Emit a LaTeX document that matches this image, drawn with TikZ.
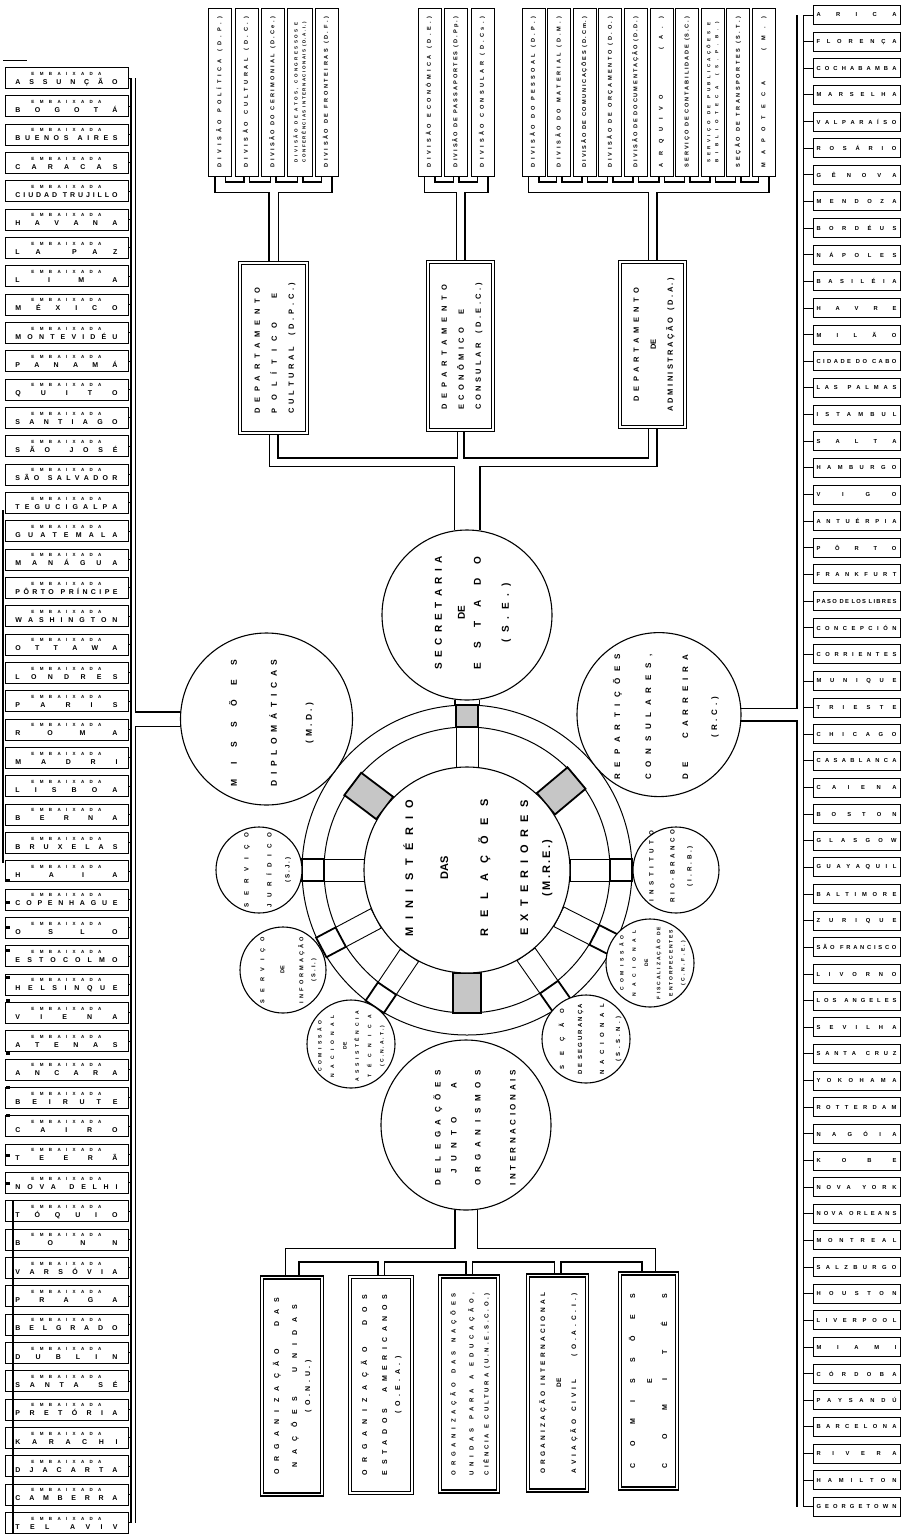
\documentclass[tikz,border=0pt]{standalone}
\usepackage{fontspec}
\setmainfont{Liberation Sans}
\usepackage{graphicx}
\usetikzlibrary{calc}
\pgfdeclarelayer{back}
\pgfdeclarelayer{pipes}
\pgfsetlayers{back,pipes,main}
\makeatletter
\def\spr@loop#1{\ifx#1\relax\else\ifx#1|\hfill\else#1\fi\expandafter\spr@more\fi}
\def\spr@more#1{\ifx#1\relax\else\hfill\ifx#1|\else#1\fi\expandafter\spr@more\fi}
\newcommand\spr[2]{\makebox[#1]{\spr@loop#2\relax}}
\newcommand\sprm[2]{\makebox[#1]{\expandafter\spr@loop#2\relax}}
\makeatother
\newcommand\vt[2][c]{\rotatebox{90}{\begin{tabular}{@{}#1@{}}#2\end{tabular}}}
\newcommand\pipeK[2]{\pgfmathsetmacro\pw{#1+3}\draw[line width=\pw pt] #2;}
\newcommand\pipeW[2]{\draw[white,line width=#1pt] #2;}
\newcommand\allpipes[1]{%
 #1{9}{(p1.south) -- (p1.south |- gb) -- (p5.south |- gb) -- (p5.south)}
 #1{4}{(p2.south) -- (p2.south |- gb)}
 #1{4}{(p3.south) -- (p3.south |- gb)}
 #1{4}{(p4.south) -- (p4.south |- gb)}
 #1{8}{(d1.north |- gb) -- (d1.north)}
 #1{9}{(e1.south) -- (e1.south |- gb) -- (e3.south |- gb) -- (e3.south)}
 #1{4}{(e2.south) -- (e2.south |- gb)}
 #1{7}{(d2.north |- gb) -- (d2.north)}
 #1{9}{(a1.south) -- (a1.south |- gb) -- (a10.south |- gb) -- (a10.south)}
 #1{4}{(a2.south) -- (a2.south |- gb)}
 #1{4}{(a3.south) -- (a3.south |- gb)}
 #1{4}{(a4.south) -- (a4.south |- gb)}
 #1{4}{(a5.south) -- (a5.south |- gb)}
 #1{4}{(a6.south) -- (a6.south |- gb)}
 #1{4}{(a7.south) -- (a7.south |- gb)}
 #1{4}{(a8.south) -- (a8.south |- gb)}
 #1{4}{(a9.south) -- (a9.south |- gb)}
 #1{7}{(d3.north |- gb) -- (d3.north)}
 #1{7}{(d1.south) -- (d1.south |- lb) -- (d3.south |- lb) -- (d3.south)}
 #1{5}{(d2.south) -- (d2.south |- lb)}
 #1{24}{(se.north |- lb) -- (se.north)}
 #1{23}{(se.south) -- (ringO.north)}
 #1{13}{(mi.west) -- (mi.west -| lbr)}
 #1{3}{(L1.east -| lbr) -- (L52.east -| lbr)}
 #1{11}{(re.east) -- (re.east -| rbr)}
 #1{5}{(R1.west -| rbr) -- (R57.west -| rbr)}
 #1{21}{(de.south) -- (de.south |- bb)}
 #1{12}{(b1.north) -- (b1.north |- bb) -- (b5.north |- bb) -- (b5.north)}
 #1{5}{(b2.north) -- (b2.north |- bb)}
 #1{5}{(b3.north) -- (b3.north |- bb)}
 #1{5}{(b4.north) -- (b4.north |- bb)}
}
\newcommand\spokethin[2]{\begin{scope}[shift={(ringO.center)},rotate=#1]
 \draw[line width=0.9pt,fill=white] (103,-11) rectangle (143,11);
 \draw[line width=1.8pt,fill=#2] (143,-11) rectangle (165,11);
 \end{scope}}
\newcommand\spokehatch[1]{\begin{scope}[shift={(ringO.center)},rotate=#1]
 \draw[line width=1.8pt,fill=gray!45] (103,-14) rectangle (143,14);
 \end{scope}}
\begin{document}
\begin{tikzpicture}[x=1pt,y=-1pt,
  every node/.style={inner sep=0pt,outer sep=0pt},
  tbox/.style={draw,line width=1pt,fill=white,minimum width=23pt,minimum height=168pt,font=\fontsize{5.6}{7}\selectfont\bfseries},
  dbox/.style={draw,line width=1.5pt,double=white,double distance=1.5pt,fill=white},
  deptf/.style={font=\fontsize{7.5}{17}\selectfont\bfseries},
  botf/.style={font=\fontsize{7}{13}\selectfont\bfseries},
  circ/.style={circle,draw,line width=1.1pt,fill=white},
  ringc/.style={circle,draw,line width=1pt,fill=white},
  ctext/.style={rotate=90,align=center},
  lbox/.style={draw,line width=1pt,fill=white,minimum width=123pt,minimum height=21pt,font=\fontsize{7}{9}\selectfont\bfseries},
  rbox/.style={draw,line width=1pt,fill=white,minimum width=87pt,minimum height=19pt,font=\fontsize{5.8}{6}\selectfont\bfseries}]
\begin{pgfonlayer}{back}
\fill[white] (0,0) rectangle (911,1534);
\end{pgfonlayer}
\useasboundingbox (0,0) rectangle (911,1534);
\coordinate (gb) at (0,187);
\coordinate (lb) at (0,462);
\coordinate (bb) at (0,1255);
\coordinate (lbr) at (133,0);
\coordinate (rbr) at (800,0);
\coordinate (lstub) at (131.5,0);
\coordinate (rstub) at (803,0);
% top divisions
\node[tbox] (p1) at (220,92) {\vt{\spr{150pt}{DIVISÃO|POLÍTICA|(D.P.)}}};
\node[tbox] (p2) at (246.5,92) {\vt{\spr{150pt}{DIVISÃO|CULTURAL|(D.C.)}}};
\node[tbox] (p3) at (273,92) {\vt{\spr{150pt}{DIVISÃO|DO|CERIMONIAL|(D.Ce.)}}};
\node[tbox,minimum width=25pt,font=\fontsize{4.5}{8}\selectfont\bfseries] (p4) at (300,92) {\vt{\spr{140pt}{DIVISÃO|DE|ATOS,|CONGRESSOS|E}\\ \spr{140pt}{CONFERÊNCIAS|INTERNACIONAIS|(D.A.I.)}}};
\node[tbox] (p5) at (326.5,92) {\vt{\spr{150pt}{DIVISÃO|DE|FRONTEIRAS|(D.F.)}}};
\node[tbox] (e1) at (429.5,92) {\vt{\spr{150pt}{DIVISÃO|ECONÔMICA|(D.E.)}}};
\node[tbox] (e2) at (456,92) {\vt{\spr{150pt}{DIVISÃO|DE|PASSAPORTES|(D.Pp.)}}};
\node[tbox] (e3) at (482.5,92) {\vt{\spr{150pt}{DIVISÃO|CONSULAR|(D.Cs.)}}};
\node[tbox] (a1) at (533.5,92) {\vt{\spr{150pt}{DIVISÃO|DO|PESSOAL|(D.P.)}}};
\node[tbox] (a2) at (559.1,92) {\vt{\spr{150pt}{DIVISÃO|DO|MATERIAL|(D.M.)}}};
\node[tbox] (a3) at (584.7,92) {\vt{\spr{150pt}{DIVISÃO|DE|COMUNICAÇÕES|(D.Cm.)}}};
\node[tbox] (a4) at (610.3,92) {\vt{\spr{150pt}{DIVISÃO|DE|ORÇAMENTO|(D.O.)}}};
\node[tbox] (a5) at (635.9,92) {\vt{\spr{150pt}{DIVISÃO|DE|DOCUMENTAÇÃO|(D.D.)}}};
\node[tbox] (a6) at (661.5,92) {\vt{\spr{150pt}{ARQUIVO|||||(A.)}}};
\node[tbox] (a7) at (687.1,92) {\vt{\spr{150pt}{SERVIÇO|DE|CONTABILIDADE|(S.C.)}}};
\node[tbox,font=\fontsize{4.5}{8}\selectfont\bfseries] (a8) at (712.7,92) {\vt{\spr{140pt}{SERVIÇO|DE|PUBLICAÇÕES|E}\\ \spr{140pt}{BIBLIOTECA|(S.P.B.)}}};
\node[tbox] (a9) at (738.3,92) {\vt{\spr{150pt}{SEÇÃO|DE|TRANSPORTES|(S.T.)}}};
\node[tbox] (a10) at (763.9,92) {\vt{\spr{150pt}{MAPOTECA|||(M.)}}};
% departments
\node[dbox,deptf,minimum width=67pt,minimum height=170pt] (d1) at (273.5,348) {\vt[l]{\spr{126pt}{DEPARTAMENTO}\\ \spr{120pt}{POLÍTICO||E}\\ \spr{131pt}{CULTURAL||(D.P.C.)}}};
\node[dbox,deptf,minimum width=65pt,minimum height=168pt] (d2) at (460.5,346) {\vt[l]{\spr{125pt}{DEPARTAMENTO}\\ \spr{100pt}{ECONÔMICO||E}\\ \spr{127pt}{CONSULAR||(D.E.C.)}}};
\node[dbox,deptf,minimum width=65pt,minimum height=165pt] (d3) at (652.5,344.5) {\vt{\spr{113pt}{DEPARTAMENTO}\\ DE\\ \spr{133pt}{ADMINISTRAÇÃO||(D.A.)}}};
% ring
\node[ringc,minimum size=330pt] (ringO) at (467,870) {};
\node[ringc,minimum size=286pt] (ringI) at (ringO.center) {};
\spokethin{0}{white}
\spokehatch{40}
\spokethin{90}{gray!45}
\spokehatch{143}
\spokethin{180}{white}
\spokethin{208}{white}
\spokethin{236}{white}
\spokehatch{270}
\spokethin{305}{white}
\spokethin{333}{white}
\node[ringc,line width=1.1pt,minimum size=206pt] (mre) at (ringO.center) {};
\node[ctext,font=\fontsize{11}{22}\selectfont\bfseries] (mre-t) at (478,868) {\spr{137pt}{MINISTÉRIO}\\[13pt] DAS\\[18pt] \spr{137pt}{RELAÇÕES}\\[18pt] \spr{135pt}{EXTERIORES}\\ \spr{56pt}{(M.R.E.)}};
% big circles
\node[circ,minimum size=170pt] (se) at (467,615) {};
\node[ctext,font=\fontsize{10}{16}\selectfont\bfseries] (se-t) at (473,613) {\spr{113pt}{SECRETARIA}\\[7pt] DE\\ \spr{113pt}{ESTADO}\\[12pt] \spr{59pt}{(S.E.)}};
\node[circ,minimum size=172pt] (mi) at (266.5,719) {};
\node[ctext,font=\fontsize{8.5}{35}\selectfont\bfseries] (mi-t) at (271.5,723) {\spr{127pt}{MISSÕES}\\[5pt] \spr{127pt}{DIPLOMÁTICAS}\\ \spr{40pt}{(M.D.)}};
\node[circ,minimum size=164pt] (re) at (659,714.6) {};
\node[ctext,font=\fontsize{8}{29}\selectfont\bfseries] (re-t) at (666,717) {\spr{125pt}{REPARTIÇÕES}\\[2pt] \spr{125pt}{CONSULARES,}\\[8pt] \spr{125pt}{DE|||CARREIRA}\\ \spr{41pt}{(R.C.)}};
\node[circ,minimum size=170pt] (de) at (466,1125) {};
\node[ctext,font=\fontsize{8}{16}\selectfont\bfseries] (de-t) at (474.5,1128) {\spr{115pt}{DELEGAÇÕES}\\ \spr{90pt}{JUNTO|||A}\\[8pt] \spr{115pt}{ORGANISMOS}\\[19pt] \spr{115pt}{INTERNACIONAIS}};
% small circles
\node[circ,minimum size=86pt] (sj) at (259,870) {};
\node[ctext,font=\fontsize{6.2}{18}\selectfont\bfseries] (sj-t) at (267.5,870) {\spr{74pt}{SERVIÇO}\\[5pt] \spr{74pt}{JURÍDICO}\\ \spr{25pt}{(S.J.)}};
\node[circ,minimum size=86pt] (si) at (283,970) {};
\node[ctext,font=\fontsize{5.6}{12}\selectfont\bfseries] (si-t) at (288.5,970) {\spr{66pt}{SERVIÇO}\\[8pt] DE\\[7pt] \spr{66pt}{INFORMAÇÃO}\\ \spr{22pt}{(S.I.)}};
\node[circ,minimum size=88pt] (cn) at (351,1044) {};
\node[ctext,font=\fontsize{5}{12.4}\selectfont\bfseries] (cn-t) at (351,1046) {\spr{50pt}{COMISSÃO}\\ \spr{62pt}{NACIONAL}\\ DE\\ \spr{70pt}{ASSISTÊNCIA}\\ \spr{62pt}{TÉCNICA}\\ \spr{40pt}{(C.N.A.T.)}};
\node[circ,minimum size=88pt] (ss) at (586,1039) {};
\node[ctext,font=\fontsize{6}{16}\selectfont\bfseries] (ss-t) at (590,1039) {\spr{60pt}{SEÇÃO}\\[2pt] \spr{70pt}{DE|SEGURANÇA}\\[6pt] \spr{70pt}{NACIONAL}\\ \spr{45pt}{(S.S.N.)}};
\node[circ,minimum size=88pt] (cf) at (650,963) {};
\node[ctext,font=\fontsize{5}{12.2}\selectfont\bfseries] (cf-t) at (652.5,963) {\spr{55pt}{COMISSÃO}\\ \spr{66pt}{NACIONAL}\\ DE\\ \spr{72pt}{FISCALIZAÇÃO|DE}\\ \spr{66pt}{ENTORPECENTES}\\ \spr{45pt}{(C.N.F.E.)}};
\node[circ,minimum size=86pt] (ir) at (676,870) {};
\node[ctext,font=\fontsize{6.2}{17}\selectfont\bfseries] (ir-t) at (671,866) {\spr{70pt}{INSTITUTO}\\[4pt] \spr{72pt}{RIO-BRANCO}\\ \spr{40pt}{(I.R.B.)}};
% bottom boxes
\node[dbox,botf,minimum width=60pt,minimum height=217pt] (b1) at (292,1386) {\vt{\spr{177pt}{ORGANIZAÇÃO||DAS}\\[5pt] \spr{163pt}{NAÇÕES||UNIDAS}\\ \spr{52pt}{(O.N.U.)}}};
\node[dbox,botf,minimum width=62pt,minimum height=216pt] (b2) at (381,1385) {\vt{\spr{180pt}{ORGANIZAÇÃO||DOS}\\[7pt] \spr{180pt}{ESTADOS||AMERICANOS}\\ \spr{57pt}{(O.E.A.)}}};
\node[dbox,font=\fontsize{6}{15}\selectfont\bfseries,minimum width=58pt,minimum height=215pt] (b3) at (469,1384) {\vt{\spr{182pt}{ORGANIZAÇÃO|DAS|NAÇÕES}\\[3pt] \spr{182pt}{UNIDAS|PARA|A|EDUCAÇÃO,}\\ \spr{182pt}{CIÊNCIA|E|CULTURA|(U.N.E.S.C.O.)}}};
\node[dbox,font=\fontsize{6.5}{15}\selectfont\bfseries,minimum width=59pt,minimum height=215pt] (b4) at (557.5,1383) {\vt{\spr{180pt}{ORGANIZAÇÃO|INTERNACIONAL}\\[1pt] DE\\ \spr{180pt}{AVIAÇÃO|CIVIL|||||(O.A.C.I.)}}};
\node[dbox,botf,minimum width=57pt,minimum height=215pt] (b5) at (648.5,1381) {\vt{\spr{175pt}{COMISSÕES}\\[4pt] E\\[2pt] \spr{175pt}{COMITÊS}}};
% left column
\foreach \nm [count=\i] in {ASSUNÇÃO,BOGOTÁ,BUENOS|AIRES,CARACAS,CIUDAD|TRUJILLO,HAVANA,LA|PAZ,LIMA,MÉXICO,MONTEVIDÉU,PANAMÁ,QUITO,SANTIAGO,SÃO|JOSÉ,SÃO|SALVADOR,TEGUCIGALPA,GUATEMALA,MANÁGUA,PÔRTO|PRÍNCIPE,WASHINGTON,OTTAWA,LONDRES,PARIS,ROMA,MADRI,LISBOA,BERNA,BRUXELAS,HAIA,COPENHAGUE,OSLO,ESTOCOLMO,HELSINQUE,VIENA,ATENAS,ANCARA,BEIRUTE,CAIRO,TEERÃ,NOVA|DELHI,TÓQUIO,BONN,VARSÓVIA,PRAGA,BELGRADO,DUBLIN,SANTA|SÉ,PRETÓRIA,KARACHI,DJACARTA,CAMBERRA,TEL|AVIV}{
  \node[lbox] (L\i) at (66.5,{78+(\i-1)*28.33}) {\begin{tabular}{@{}c@{}}{\fontsize{4.5}{5}\selectfont\spr{70pt}{EMBAIXADA}}\\ \sprm{102pt}{\nm}\end{tabular}};
  \draw[line width=1pt] (L\i.east) -- (L\i.east -| lstub);
}
% right column
\foreach \nm [count=\i] in {ARICA,FLORENÇA,COCHABAMBA,MARSELHA,VALPARAÍSO,ROSÁRIO,GÊNOVA,MENDOZA,BORDÉUS,NÁPOLES,BASILÉIA,HAVRE,MILÃO,CIDADE|DO|CABO,LAS|PALMAS,ISTAMBUL,SALTA,HAMBURGO,VIGO,ANTUÉRPIA,PÔRTO,FRANKFURT,PASO|DE|LOS|LIBRES,CONCEPCIÓN,CORRIENTES,MUNIQUE,TRIESTE,CHICAGO,CASABLANCA,CAIENA,BOSTON,GLASGOW,GUAYAQUIL,BALTIMORE,ZURIQUE,SÃO|FRANCISCO,LIVORNO,LOS|ANGELES,SEVILHA,SANTA|CRUZ,YOKOHAMA,ROTTERDAM,NAGÓIA,KOBE,NOVA|YORK,NOVA|ORLEANS,MONTREAL,SALZBURGO,HOUSTON,LIVERPOOL,MIAMI,CÓRDOBA,PAYSANDÚ,BARCELONA,RIVERA,HAMILTON,GEORGETOWN}{
  \node[rbox] (R\i) at (856.5,{15+(\i-1)*26.64}) {\sprm{80pt}{\nm}};
  \draw[line width=1pt] (R\i.west) -- (R\i.west -| rstub);
}
% scan marks at the left edge
\draw[line width=1pt] (3,60) -- (27,60);
\draw[line width=1.2pt] (3,510) -- (3,863);
\draw[line width=2pt] (13,1200) -- (13,1534);
\foreach \yy in {880,902,927,950,977,1000,1053,1087,1115,1155,1183}{\fill (6,\yy-1.5) rectangle (10,\yy+1.5);}
% connectors
\begin{pgfonlayer}{pipes}
\allpipes\pipeK
\allpipes\pipeW
\end{pgfonlayer}
\end{tikzpicture}
\end{document}
